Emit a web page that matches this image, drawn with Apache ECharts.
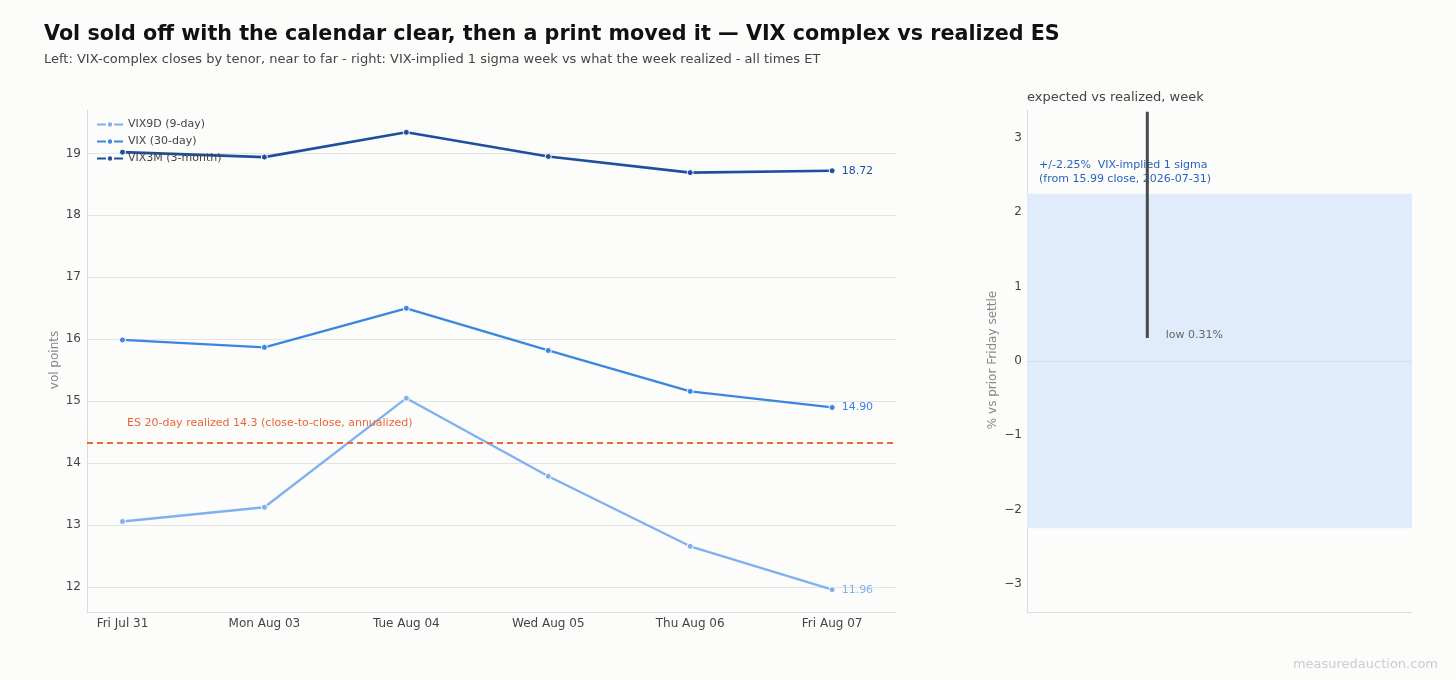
<!DOCTYPE html>
<html>
<head>
<meta charset="utf-8">
<script src="https://cdn.jsdelivr.net/npm/echarts@6/dist/echarts.min.js"></script>
<style>
  html, body { margin: 0; padding: 0; background: #fcfcfb; }
  #main { width: 1456px; height: 680px; }
</style>
</head>
<body>
<div id="main"></div>
<script>
// daily closes, Fri Jul 31 .. Fri Aug 07
var days = ['Fri Jul 31', 'Mon Aug 03', 'Tue Aug 04', 'Wed Aug 05', 'Thu Aug 06', 'Fri Aug 07'];
var vix9d = [13.06, 13.29, 15.05, 13.79, 12.66, 11.96];
var vix = [15.99, 15.87, 16.50, 15.82, 15.16, 14.90];
var vix3m = [19.02, 18.94, 19.34, 18.95, 18.69, 18.72];
var esRealized = 14.33;

// right panel: implied 1 sigma band vs week range (% vs prior Friday settle)
var sigma = 2.25;
var weekLow = 0.31;
var weekHigh = 3.35;

var FONT = 'DejaVu Sans';
var c9d = '#7fb1ef', cVix = '#3a86e0', c3m = '#1f4f9c', cEs = '#e8663a';

function pts(arr) {
  return arr.map(function (v, i) { return [i, v]; });
}

function vixSeries(name, arr, color, width) {
  var d = pts(arr);
  d[d.length - 1] = {
    value: d[d.length - 1],
    label: {
      show: true, position: 'right', distance: 6, color: color, fontSize: 11,
      fontFamily: FONT, formatter: function (p) { return p.value[1].toFixed(2); }
    }
  };
  return {
    name: name, type: 'line', xAxisIndex: 0, yAxisIndex: 0, data: d,
    symbol: 'circle', symbolSize: 6, z: 3,
    itemStyle: { color: color, borderColor: '#fff', borderWidth: 1 },
    lineStyle: { color: color, width: width }
  };
}

// rotated axis title
function axisTitle(text, x) {
  return {
    type: 'text', x: x, y: 360, rotation: Math.PI / 2,
    style: { text: text, fill: '#888', fontSize: 12, fontFamily: FONT, align: 'center', verticalAlign: 'middle' }
  };
}

var chart = echarts.init(document.getElementById('main'));

var s9d = vixSeries('VIX9D (9-day)', vix9d, c9d, 2.3);
s9d.markLine = {
  silent: true, symbol: 'none',
  lineStyle: { color: cEs, type: [6, 4], width: 2 },
  label: {
    show: true, position: 'insideStartTop', distance: 14, offset: [26, 0],
    color: cEs, fontSize: 11, fontFamily: FONT,
    formatter: 'ES 20-day realized ' + esRealized.toFixed(1) + ' (close-to-close, annualized)'
  },
  data: [{ yAxis: esRealized }]
};

var option = {
  backgroundColor: '#fcfcfb',
  textStyle: { fontFamily: FONT },
  title: [{
    text: 'Vol sold off with the calendar clear, then a print moved it \u2014 VIX complex vs realized ES',
    subtext: 'Left: VIX-complex closes by tenor, near to far - right: VIX-implied 1 sigma week vs what the week realized - all times ET',
    left: 39, top: 19, itemGap: 8,
    textStyle: { fontSize: 20.7, fontWeight: 'bold', color: '#111', fontFamily: FONT },
    subtextStyle: { fontSize: 13, color: '#444', fontFamily: FONT }
  }, {
    text: 'expected vs realized, week',
    left: 1022, top: 86,
    textStyle: { fontSize: 13, fontWeight: 'normal', color: '#444', fontFamily: FONT }
  }],
  legend: {
    orient: 'vertical', left: 91, top: 113, itemGap: 4,
    itemWidth: 26, itemHeight: 8,
    textStyle: { fontSize: 11, color: '#444', fontFamily: FONT, lineHeight: 13 },
    data: ['VIX9D (9-day)', 'VIX (30-day)', 'VIX3M (3-month)']
  },
  grid: [
    { left: 87, right: 560, top: 110, bottom: 68 },
    { left: 1027, right: 44, top: 110, bottom: 68 }
  ],
  xAxis: [{
    type: 'value', gridIndex: 0, min: -0.25, max: 5.45,
    splitLine: { show: false },
    axisLine: { onZero: false, lineStyle: { color: '#dcdcdc' } },
    axisTick: { show: false },
    axisLabel: {
      customValues: [0, 1, 2, 3, 4, 5], margin: 6,
      color: '#444', fontSize: 12, fontFamily: FONT,
      formatter: function (v) { return days[Math.round(v)]; }
    }
  }, {
    type: 'value', gridIndex: 1, min: -0.5, max: 1.1,
    splitLine: { show: false },
    axisLine: { onZero: false, lineStyle: { color: '#dcdcdc' } },
    axisTick: { show: false }, axisLabel: { show: false }
  }],
  yAxis: [{
    type: 'value', gridIndex: 0, min: 11.6, max: 19.7, splitNumber: 8,
    axisLine: { show: true, onZero: false, lineStyle: { color: '#dcdcdc' } },
    axisTick: { show: false },
    axisLabel: { color: '#444', fontSize: 12, margin: 6, showMinLabel: false, showMaxLabel: false, fontFamily: FONT },
    splitLine: { lineStyle: { color: '#e4e4e4' }, showMinLine: false, showMaxLine: false }
  }, {
    type: 'value', gridIndex: 1, min: -1.5 * sigma, max: 1.5 * sigma, splitNumber: 7,
    axisLine: { show: true, onZero: false, lineStyle: { color: '#dcdcdc' } },
    axisTick: { show: false },
    axisLabel: {
      color: '#444', fontSize: 12, margin: 5, showMinLabel: false, showMaxLabel: false, fontFamily: FONT,
      formatter: function (v) { return v < 0 ? '\u2212' + Math.abs(v) : String(v); }
    },
    splitLine: { show: false }
  }],
  series: [
    s9d,
    vixSeries('VIX (30-day)', vix, cVix, 2.3),
    vixSeries('VIX3M (3-month)', vix3m, c3m, 2.6),
    {
      name: 'range', type: 'line', xAxisIndex: 1, yAxisIndex: 1,
      data: [[0, weekLow], [0, weekHigh]],
      symbol: 'none', z: 4,
      lineStyle: { color: '#4a4a4a', width: 3 },
      markArea: {
        silent: true,
        itemStyle: { color: '#e0ecfb' },
        label: {
          show: true, position: [12, -36], color: '#2a63c0', fontSize: 11, lineHeight: 14,
          fontFamily: FONT,
          formatter: '+/-' + sigma.toFixed(2) + '%  VIX-implied 1 sigma\n(from ' + vix[0].toFixed(2) + ' close, 2026-07-31)'
        },
        data: [[{ xAxis: -0.5, yAxis: -sigma }, { xAxis: 1.1, yAxis: sigma }]]
      },
      markLine: {
        silent: true, symbol: 'none', z: 1,
        lineStyle: { color: '#dddddd', type: 'solid', width: 1 },
        label: { show: false },
        data: [{ yAxis: 0 }]
      }
    },
    {
      name: 'low', type: 'scatter', xAxisIndex: 1, yAxisIndex: 1,
      data: [[0, weekLow]], symbolSize: 1, itemStyle: { color: 'rgba(0,0,0,0)' },
      label: {
        show: true, position: 'right', distance: 18, offset: [0, -3],
        color: '#444', fontSize: 11, fontFamily: FONT,
        formatter: function (p) { return 'low ' + p.value[1].toFixed(2) + '%'; }
      }
    }
  ],
  graphic: [
    axisTitle('vol points', 55),
    axisTitle('% vs prior Friday settle', 993),
    {
      type: 'text', right: 18, bottom: 9,
      style: { text: 'measuredauction.com', fill: '#cccccc', fontSize: 13, fontFamily: FONT }
    }
  ]
};

chart.setOption(option);
</script>
</body>
</html>
